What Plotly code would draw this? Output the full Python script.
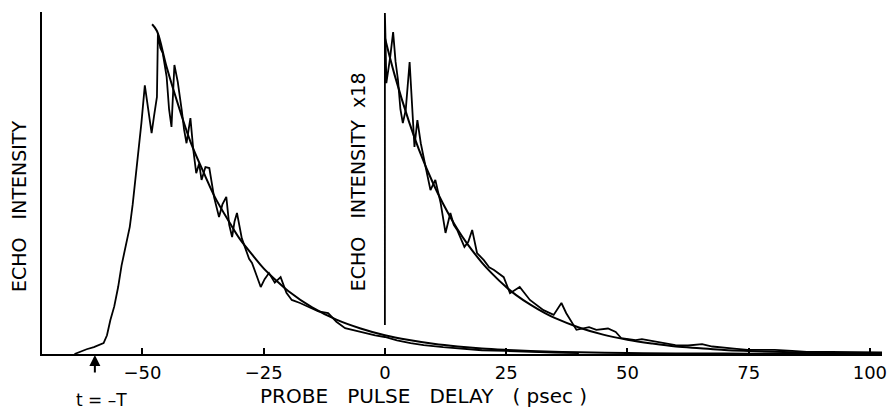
import plotly.graph_objects as go

# ---- data ----
tick_vals = [-50, -25, 0, 25, 50, 75, 100]
tick_text = ["\u221250", "\u221225", "0", "25", "50", "75", "100"]

left_x = [-64, -63, -61.5, -60, -59, -58, -57.3, -56.6, -55.8, -55,
          -54.3, -53.6, -53, -52.6, -52, -51.4, -50.9, -50.2, -49.5, -48.8,
          -48.1, -47.6, -47, -46.8, -46.3, -45.8, -45.4, -45, -44.5, -44,
          -43.4, -42.7, -41.9, -41.4, -40.9, -40.5, -40.1, -39.5, -38.9, -38.3,
          -37.8, -37, -36.2, -35.2, -34.2, -33.5, -32.7, -32.1, -31.5, -31,
          -30.5, -29.5, -28.6, -28, -27.4, -26.5, -25.6, -24.8, -23.9, -22.7,
          -21.5, -20.3, -19.2, -17.5, -15.7, -13.7, -11.7, -10, -8.2, -6,
          -4.1, -2, 0, 2.5, 5.3, 8, 12, 16, 20, 25,
          30, 35, 40]
left_y = [0, 0.6, 1.4, 2.0, 2.6, 3.2, 5.5, 10, 14, 19.7,
          26, 30.6, 35, 37.4, 44, 52, 58, 68, 79, 72,
          65, 70, 75.6, 94.4, 90, 88.5, 85, 81.5, 72, 66.8,
          85, 80, 71.8, 66, 62, 66, 69.4, 60, 53.2, 56,
          51.2, 55, 54.7, 46, 40.3, 44, 46.2, 38, 34.4, 39,
          41.5, 34, 30.6, 28, 26.8, 23, 19.7, 22, 23.8, 21,
          22.6, 18, 15.9, 15, 13.8, 12.5, 12, 9.5, 7.6, 6.8,
          6.2, 5.5, 5, 4.0, 3.2, 2.6, 2.0, 1.5, 1.1, 0.9,
          0.6, 0.4, 0.3]

left_fit_x = [-48, -47, -45, -42, -40, -37, -35, -32, -30, -27, -25, -22, -20,
              -15, -10, -5, 0, 5, 10, 15, 20, 25, 30, 40, 50, 60, 75, 90, 102]
left_fit_y = [97, 95, 84.4, 70.5, 62.1, 52.2, 46.0, 38.6, 34.0, 28.6, 25.2, 21.1, 18.6,
              13.7, 10.1, 7.5, 5.5, 4.1, 3.0, 2.2, 1.6, 1.2, 0.9, 0.5, 0.3, 0.15, 0.1, 0.05, 0.03]

right_x = [0, 0, 0.1, 0.3, 0.7, 1.1, 1.7, 2.2, 2.7, 3.2,
           3.7, 4.3, 5.1, 5.6, 6.1, 6.7, 7.4, 8.4, 9.4, 10.4,
           11.5, 12.5, 13.5, 14.2, 14.9, 16.4, 17.2, 18, 19, 20.4,
           21.5, 22.5, 24.5, 25.8, 27.8, 29.9, 31.3, 32.7, 34.8, 36.4,
           37.4, 39.5, 42.1, 43.6, 46, 47.6, 48.7, 51.7, 53, 56.4,
           59.9, 62.5, 65.4, 67.5, 69.5, 72, 74.8, 80.4, 84, 87,
           92, 100.8, 102.5]
right_y = [8.5, 100.3, 94.4, 79.7, 83, 87.4, 94.7, 86, 80.6, 72,
           67.9, 71.8, 85.9, 72, 60.9, 68.8, 62, 55, 48.2, 51.2,
           44.4, 35.6, 41.5, 38, 36.5, 31.5, 33, 36.5, 29.7, 27.6,
           25.5, 24.7, 22.6, 17.9, 19.7, 15.9, 14.5, 12.9, 11.5, 15,
           12, 7.1, 7.9, 7.1, 7.5, 6.5, 4.7, 4.1, 4.4, 3.5,
           2.6, 2.5, 2.9, 2.2, 2, 1.6, 1.2, 1.2, 0.9, 0.6,
           0.6, 0.6, 0.5]

right_fit_x = [0, 2, 5, 7, 10, 12, 15, 17, 20, 22, 25, 27, 30, 33, 35,
               40, 45, 50, 55, 60, 65, 70, 75, 80, 90, 100, 102.5]
right_fit_y = [93, 82.1, 68.2, 60.2, 50.0, 44.2, 36.6, 32.4, 26.9, 23.8, 19.7, 17.4, 14.5, 12.0, 10.6,
               7.8, 5.7, 4.2, 3.1, 2.2, 1.7, 1.2, 0.9, 0.66, 0.36, 0.2, 0.15]

FONT = "DejaVu Sans"

fig = go.Figure()
fig.add_trace(go.Scatter(x=left_fit_x, y=left_fit_y, mode="lines",
                         line=dict(color="black", width=2, shape="spline"), hoverinfo="skip"))
fig.add_trace(go.Scatter(x=left_x, y=left_y, mode="lines",
                         line=dict(color="black", width=1.8), hoverinfo="skip"))
fig.add_trace(go.Scatter(x=right_fit_x, y=right_fit_y, mode="lines",
                         line=dict(color="black", width=2, shape="spline"), hoverinfo="skip"))
fig.add_trace(go.Scatter(x=right_x, y=right_y, mode="lines",
                         line=dict(color="black", width=1.8), hoverinfo="skip"))

NB = "\u00a0"
annotations = [
    dict(text="ECHO" + NB * 3 + "INTENSITY", xref="paper", yref="paper",
         x=-0.0272, y=0.433, textangle=-90, showarrow=False,
         font=dict(family=FONT, size=19, color="black"), xanchor="center", yanchor="middle"),
    dict(text="ECHO" + NB * 3 + "INTENSITY" + NB * 2 + "x18", xref="x", yref="paper",
         x=-5.5, y=0.503, textangle=-90, showarrow=False,
         font=dict(family=FONT, size=19, color="black"), xanchor="center", yanchor="middle"),
    dict(text="PROBE" + NB * 3 + "PULSE" + NB * 3 + "DELAY" + NB * 3 + "(" + NB + "psec" + NB + ")",
         xref="x", yref="paper", x=8.0, y=-0.123, showarrow=False,
         font=dict(family=FONT, size=20, color="black"), xanchor="center", yanchor="middle"),
    dict(text="t" + NB + "=" + NB + "\u2013T", xref="x", yref="paper", x=-58.5, y=-0.134,
         showarrow=False, font=dict(family=FONT, size=17, color="black"),
         xanchor="center", yanchor="middle"),
    dict(text="", x=-59.8, y=0, xref="x", yref="y", showarrow=True,
         ax=0, ay=20, arrowhead=2, arrowsize=1.1, arrowwidth=2, arrowcolor="black", standoff=1),
]

fig.update_layout(
    width=892, height=409,
    margin=dict(l=42, r=5, t=12, b=55),
    paper_bgcolor="white", plot_bgcolor="white",
    showlegend=False,
    annotations=annotations,
    font=dict(family=FONT, color="black"),
    xaxis=dict(range=[-70.7, 102.5], showline=True, linecolor="black", linewidth=2,
               ticks="inside", ticklen=6, tickwidth=1.5, tickcolor="black",
               tickvals=tick_vals, ticktext=tick_text, showgrid=False, zeroline=False,
               tickfont=dict(family=FONT, size=18, color="black"), ticklabelstandoff=1),
    yaxis=dict(range=[0, 100.6], showline=True, linecolor="black", linewidth=2,
               showticklabels=False, ticks="", showgrid=False, zeroline=False),
)

fig.write_html("out.html", config={"displayModeBar": False},
               post_script="document.body.style.margin='0';document.body.style.padding='0';")
